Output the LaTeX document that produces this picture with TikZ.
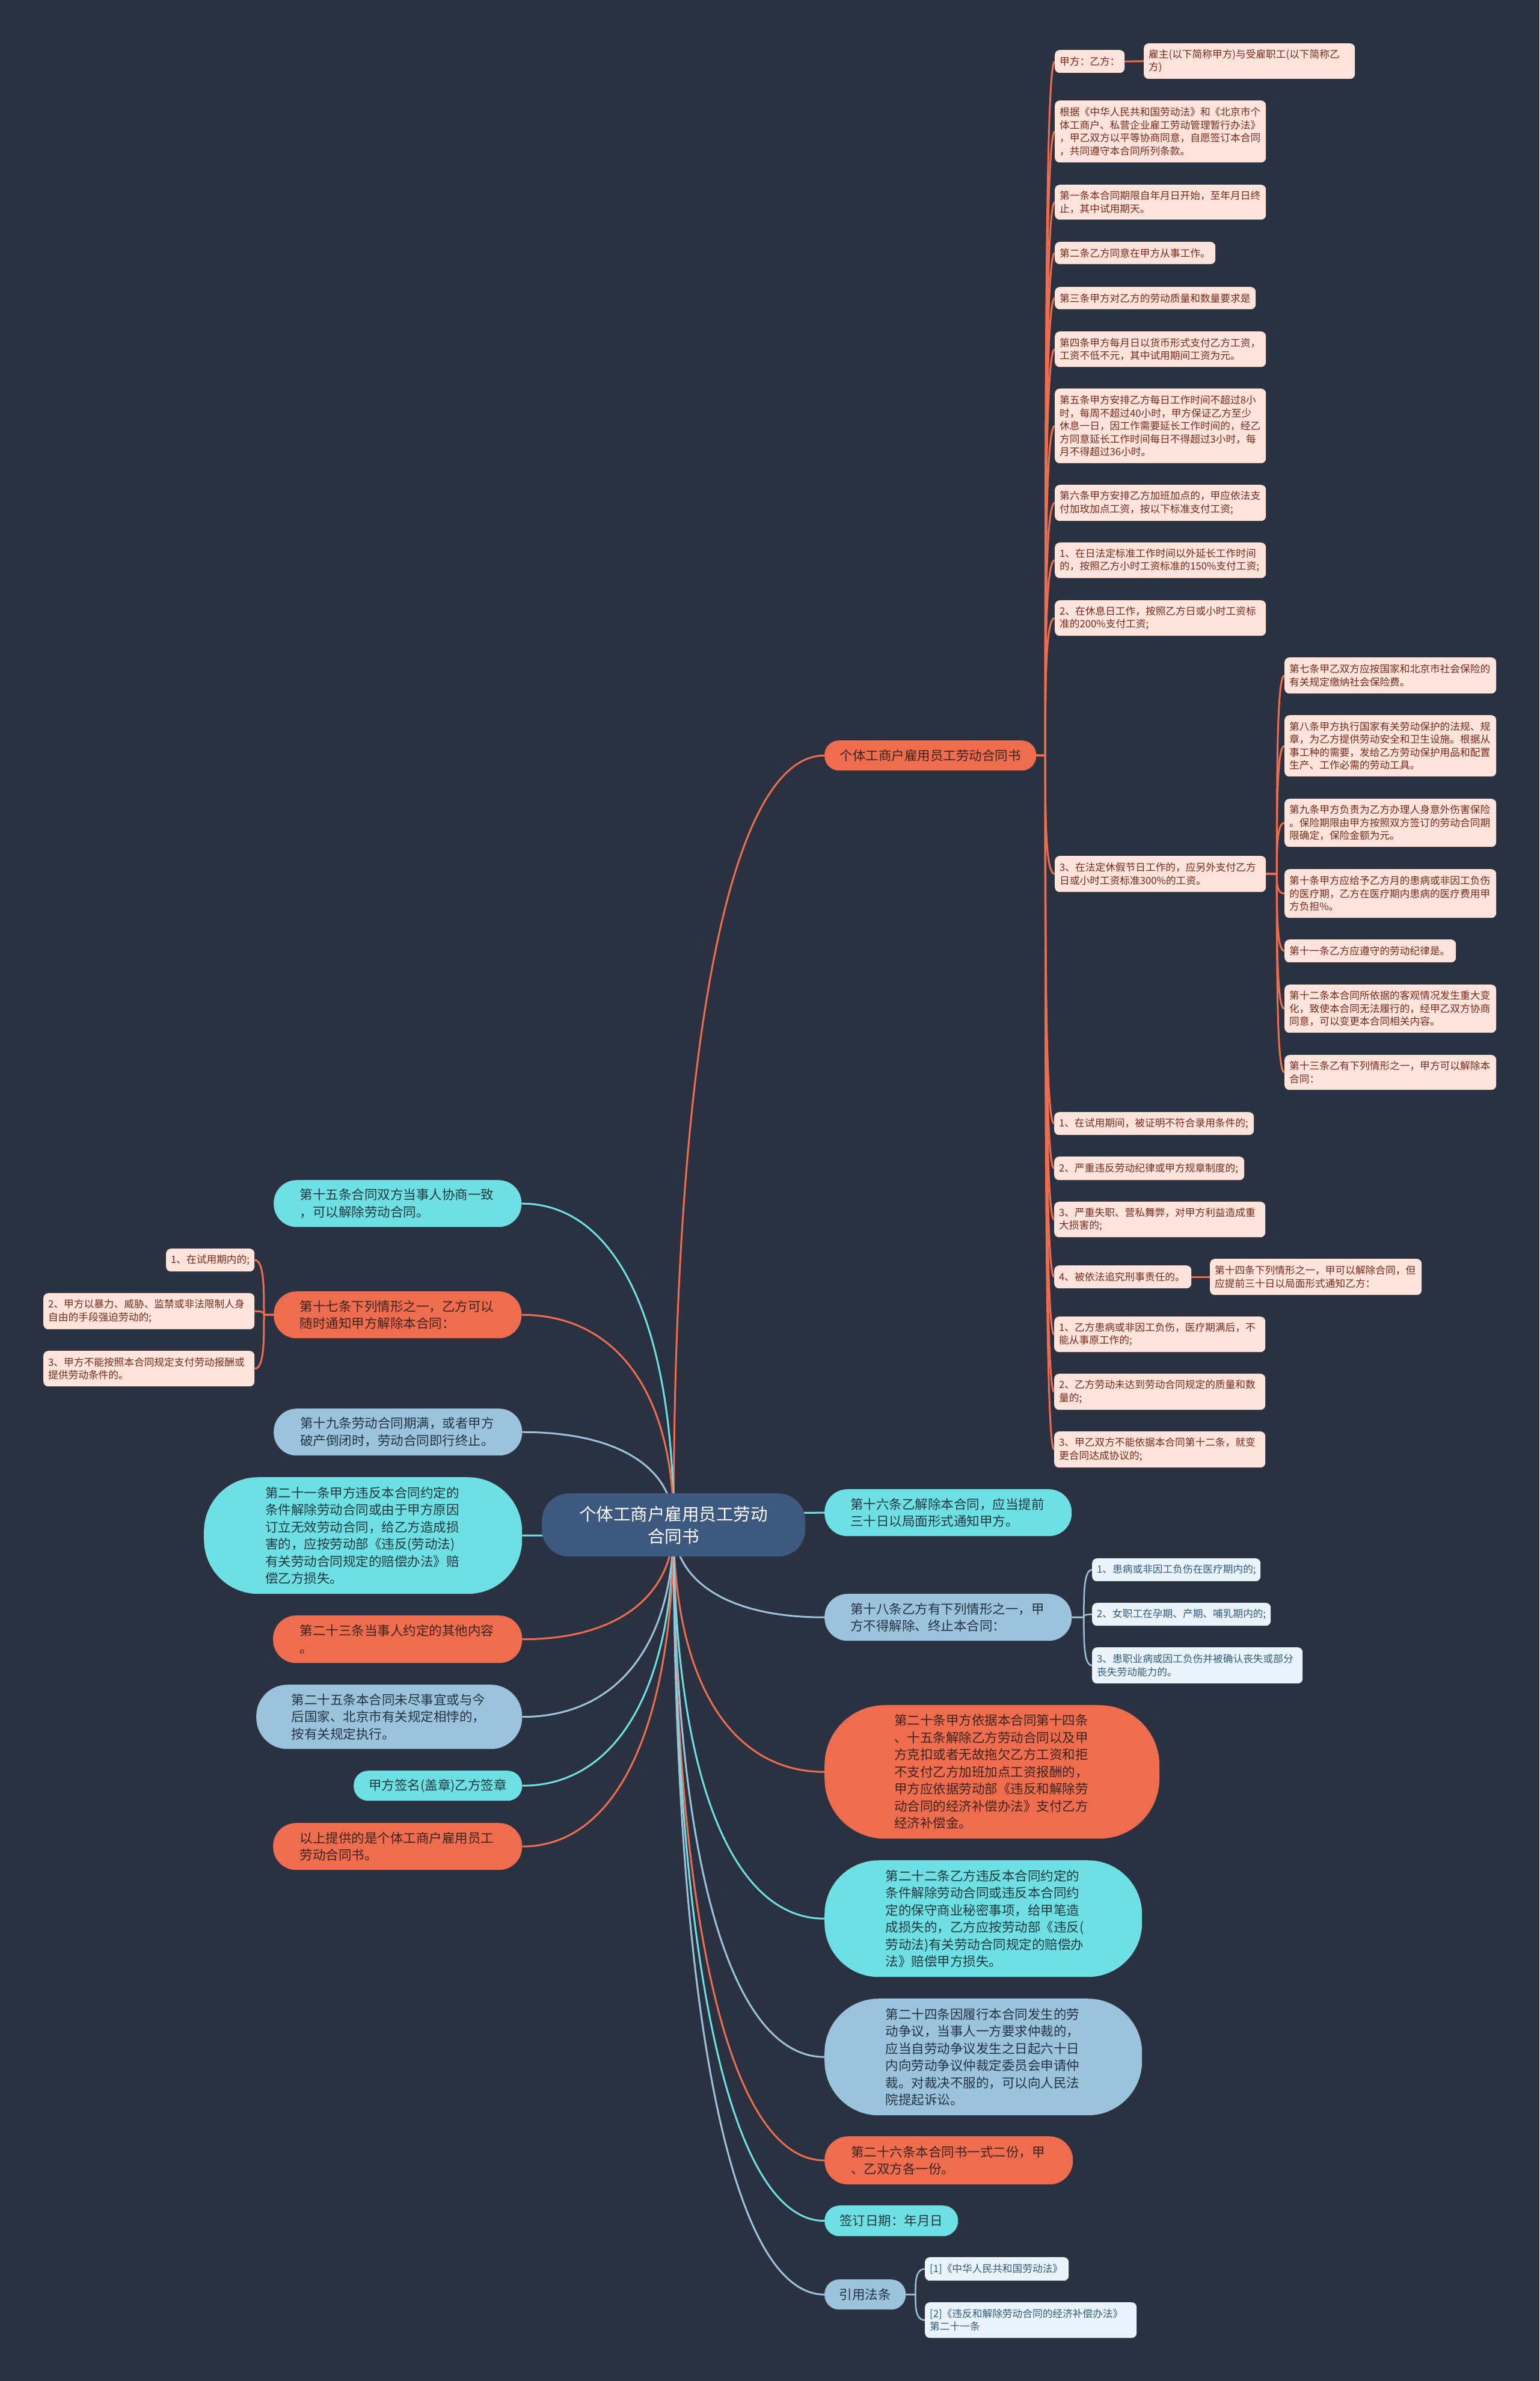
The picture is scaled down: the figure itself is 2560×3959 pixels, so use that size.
\documentclass[tikz,border=0pt]{standalone}
\usepackage{fontspec}
\setmainfont{Noto Sans CJK SC}
\usetikzlibrary{calc}
\definecolor{bgc}{RGB}{42,49,64}
\definecolor{orn}{RGB}{238,109,79}
\definecolor{cyn}{RGB}{110,223,227}
\definecolor{blu}{RGB}{156,195,220}
\definecolor{rootc}{RGB}{61,89,127}
\definecolor{pinkc}{RGB}{252,228,220}
\definecolor{lbluc}{RGB}{234,243,249}
\definecolor{ornT}{RGB}{62,36,30}
\definecolor{cynT}{RGB}{32,58,64}
\definecolor{bluT}{RGB}{36,52,68}
\definecolor{pinkT}{RGB}{122,42,26}
\definecolor{lbluT}{RGB}{48,92,128}
\pgfdeclarelayer{bg}\pgfdeclarelayer{edges}\pgfsetlayers{bg,edges,main}
\tikzset{
  big/.style={font=\fontsize{21.5}{28.5}\selectfont, inner sep=0pt, align=left, anchor=north west},
  bigml/.style={big, text width=325pt},
  bigone/.style={big, align=center},
  ornN/.style={fill=orn, text=ornT},
  cynN/.style={fill=cyn, text=cynT},
  bluN/.style={fill=blu, text=bluT},
  leaf/.style={font=\fontsize{16.7}{21.5}\selectfont, inner xsep=8pt, inner ysep=0pt, align=left, anchor=north west, rounded corners=8pt},
  pinkN/.style={leaf, fill=pinkc, text=pinkT},
  lbluN/.style={leaf, fill=lbluc, text=lbluT},
  ow/.style={orn, line width=3pt},
  cw/.style={cyn, line width=3pt},
  bw/.style={blu, line width=3pt},
  lbw/.style={blu, line width=2.5pt},
}
\newcommand\rl[2]{\draw[#1] (root.center) .. controls ($(root.center)!0.6!(root.center|-#2)$) and ($(root.center|-#2)!0.35!(#2)$) .. (#2);}
\newcommand\brl[4]{\draw[#1] (#2) -- (#3) .. controls ($(#3)!0.5!(#3|-#4)$) and (#3|-#4) .. (#4);}
\begin{document}
\begin{tikzpicture}[x=1pt,y=-1pt]
\begin{pgfonlayer}{bg}
\fill[bgc] (0,0) rectangle (2560,3959);
\end{pgfonlayer}
\useasboundingbox (0,0) rectangle (2560,3959);

% root
\node[font=\fontsize{28.5}{37}\selectfont, inner sep=0pt, align=center, anchor=north west, fill=rootc, text=white, minimum width=438pt, minimum height=105pt, rounded corners=45pt] (root) at (901,2483) {个体工商户雇用员工劳动\\合同书};

% main branch 1
\node[bigone, ornN, minimum width=352pt, minimum height=50pt, rounded corners=24pt] (b1) at (1371,1231) {个体工商户雇用员工劳动合同书};

% leaves of branch 1
\node[pinkN, text width=100pt, minimum height=38pt] (l1) at (1754,83) {甲方：乙方：};
\node[pinkN, text width=335pt, minimum height=59pt] (l1a) at (1902,72) {雇主(以下简称甲方)与受雇职工(以下简称乙\\方)};
\node[pinkN, text width=335pt, minimum height=103pt] (l2) at (1754,167) {根据《中华人民共和国劳动法》和《北京市个\\体工商户、私营企业雇工劳动管理暂行办法》\\，甲乙双方以平等协商同意，自愿签订本合同\\，共同遵守本合同所列条款。};
\node[pinkN, text width=335pt, minimum height=58pt] (l3) at (1754,307) {第一条本合同期限自年月日开始，至年月日终\\止，其中试用期天。};
\node[pinkN, text width=251pt, minimum height=37pt] (l4) at (1754,402) {第二条乙方同意在甲方从事工作。};
\node[pinkN, text width=318pt, minimum height=37pt] (l5) at (1754,477) {第三条甲方对乙方的劳动质量和数量要求是};
\node[pinkN, text width=335pt, minimum height=59pt] (l6) at (1754,551) {第四条甲方每月日以货币形式支付乙方工资，\\工资不低不元，其中试用期间工资为元。};
\node[pinkN, text width=335pt, minimum height=124pt] (l7) at (1754,646) {第五条甲方安排乙方每日工作时间不超过8小\\时，每周不超过40小时，甲方保证乙方至少\\休息一日，因工作需要延长工作时间的，经乙\\方同意延长工作时间每日不得超过3小时，每\\月不得超过36小时。};
\node[pinkN, text width=335pt, minimum height=60pt] (l8) at (1754,806) {第六条甲方安排乙方加班加点的，甲应依法支\\付加玫加点工资，按以下标准支付工资;};
\node[pinkN, text width=335pt, minimum height=59pt] (l9) at (1754,902) {1、在日法定标准工作时间以外延长工作时间\\的，按照乙方小时工资标准的150\%支付工资;};
\node[pinkN, text width=335pt, minimum height=59pt] (l10) at (1754,998) {2、在休息日工作，按照乙方日或小时工资标\\准的200\%支付工资;};
\node[pinkN, text width=335pt, minimum height=60pt] (l11) at (1754,1423) {3、在法定休假节日工作的，应另外支付乙方\\日或小时工资标准300\%的工资。};

% sub leaves of l11
\node[pinkN, text width=336pt, minimum height=60pt] (s1) at (2136,1093) {第七条甲乙双方应按国家和北京市社会保险的\\有关规定缴纳社会保险费。};
\node[pinkN, text width=336pt, minimum height=102pt] (s2) at (2136,1189) {第八条甲方执行国家有关劳动保护的法规、规\\章，为乙方提供劳动安全和卫生设施。根据从\\事工种的需要，发给乙方劳动保护用品和配置\\生产、工作必需的劳动工具。};
\node[pinkN, text width=336pt, minimum height=80pt] (s3) at (2136,1328) {第九条甲方负责为乙方办理人身意外伤害保险\\。保险期限由甲方按照双方签订的劳动合同期\\限确定，保险金额为元。};
\node[pinkN, text width=336pt, minimum height=81pt] (s4) at (2136,1445) {第十条甲方应给予乙方月的患病或非因工负伤\\的医疗期，乙方在医疗期内患病的医疗费用甲\\方负担\%。};
\node[pinkN, text width=269pt, minimum height=38pt] (s5) at (2136,1562) {第十一条乙方应遵守的劳动纪律是。};
\node[pinkN, text width=336pt, minimum height=80pt] (s6) at (2136,1637) {第十二条本合同所依据的客观情况发生重大变\\化，致使本合同无法履行的，经甲乙双方协商\\同意，可以变更本合同相关内容。};
\node[pinkN, text width=336pt, minimum height=58pt] (s7) at (2136,1754) {第十三条乙有下列情形之一，甲方可以解除本\\合同：};

\node[pinkN, text width=316pt, minimum height=38pt] (l12) at (1753,1849) {1、在试用期间，被证明不符合录用条件的;};
\node[pinkN, text width=300pt, minimum height=39pt] (l13) at (1753,1923) {2、严重违反劳动纪律或甲方规章制度的;};
\node[pinkN, text width=335pt, minimum height=59pt] (l14) at (1753,1998) {3、严重失职、营私舞弊，对甲方利益造成重\\大损害的;};
\node[pinkN, text width=212pt, minimum height=38pt] (l15) at (1753,2104) {4、被依法追究刑事责任的。};
\node[pinkN, text width=336pt, minimum height=60pt] (l15a) at (2012,2093) {第十四条下列情形之一，甲可以解除合同，但\\应提前三十日以局面形式通知乙方：};
\node[pinkN, text width=335pt, minimum height=59pt] (l16) at (1753,2189) {1、乙方患病或非因工负伤，医疗期满后，不\\能从事原工作的;};
\node[pinkN, text width=335pt, minimum height=60pt] (l17) at (1753,2284) {2、乙方劳动未达到劳动合同规定的质量和数\\量的;};
\node[pinkN, text width=335pt, minimum height=60pt] (l18) at (1753,2380) {3、甲乙双方不能依据本合同第十二条，就变\\更合同达成协议的;};

% left side
\node[bigml, cynN, minimum width=412pt, minimum height=78pt, rounded corners=38pt] (n15) at (455,1962) {第十五条合同双方当事人协商一致\\，可以解除劳动合同。};
\node[bigml, ornN, minimum width=412pt, minimum height=78pt, rounded corners=38pt] (n17) at (455,2147) {第十七条下列情形之一，乙方可以\\随时通知甲方解除本合同：};
\node[pinkN, text width=131pt, minimum height=38pt] (c1) at (276,2076) {1、在试用期内的;};
\node[pinkN, text width=335pt, minimum height=60pt] (c2) at (72,2150) {2、甲方以暴力、威胁、监禁或非法限制人身\\自由的手段强迫劳动的;};
\node[pinkN, text width=335pt, minimum height=59pt] (c3) at (72,2246) {3、甲方不能按照本合同规定支付劳动报酬或\\提供劳动条件的。};
\node[bigml, bluN, minimum width=413pt, minimum height=78pt, rounded corners=38pt] (n19) at (455,2342) {第十九条劳动合同期满，或者甲方\\破产倒闭时，劳动合同即行终止。};
\node[bigml, cynN, minimum width=529pt, minimum height=194pt, rounded corners=90pt] (n21) at (339,2456) {第二十一条甲方违反本合同约定的\\条件解除劳动合同或由于甲方原因\\订立无效劳动合同，给乙方造成损\\害的，应按劳动部《违反(劳动法)\\有关劳动合同规定的赔偿办法》赔\\偿乙方损失。};
\node[bigml, ornN, minimum width=414pt, minimum height=79pt, rounded corners=38pt] (n23) at (454,2686) {第二十三条当事人约定的其他内容\\。};
\node[bigml, bluN, minimum width=442pt, minimum height=107pt, rounded corners=52pt] (n25) at (426,2801) {第二十五条本合同未尽事宜或与今\\后国家、北京市有关规定相悖的，\\按有关规定执行。};
\node[bigone, cynN, minimum width=280pt, minimum height=50pt, rounded corners=24pt] (nsig) at (588,2944) {甲方签名(盖章)乙方签章};
\node[bigml, ornN, minimum width=414pt, minimum height=78pt, rounded corners=38pt] (nend) at (454,3031) {以上提供的是个体工商户雇用员工\\劳动合同书。};

% right side
\node[bigml, cynN, minimum width=411pt, minimum height=78pt, rounded corners=38pt] (n16) at (1371,2476) {第十六条乙解除本合同，应当提前\\三十日以局面形式通知甲方。};
\node[bigml, bluN, minimum width=411pt, minimum height=78pt, rounded corners=38pt] (n18) at (1371,2650) {第十八条乙方有下列情形之一，甲\\方不得解除、终止本合同：};
\node[lbluN, text width=264pt, minimum height=38pt] (d1) at (1816,2591) {1、患病或非因工负伤在医疗期内的;};
\node[lbluN, text width=281pt, minimum height=38pt] (d2) at (1816,2665) {2、女职工在孕期、产期、哺乳期内的;};
\node[lbluN, text width=334pt, minimum height=60pt] (d3) at (1816,2739) {3、患职业病或因工负伤并被确认丧失或部分\\丧失劳动能力的。};
\node[bigml, ornN, minimum width=557pt, minimum height=222pt, rounded corners=100pt] (n20) at (1371,2835) {第二十条甲方依据本合同第十四条\\、十五条解除乙方劳动合同以及甲\\方克扣或者无故拖欠乙方工资和拒\\不支付乙方加班加点工资报酬的，\\甲方应依据劳动部《违反和解除劳\\动合同的经济补偿办法》支付乙方\\经济补偿金。};
\node[bigml, cynN, minimum width=528pt, minimum height=194pt, rounded corners=90pt] (n22) at (1371,3093) {第二十二条乙方违反本合同约定的\\条件解除劳动合同或违反本合同约\\定的保守商业秘密事项，给甲笔造\\成损失的，乙方应按劳动部《违反(\\劳动法)有关劳动合同规定的赔偿办\\法》赔偿甲方损失。};
\node[bigml, bluN, minimum width=528pt, minimum height=194pt, rounded corners=90pt] (n24) at (1371,3323) {第二十四条因履行本合同发生的劳\\动争议，当事人一方要求仲裁的，\\应当自劳动争议发生之日起六十日\\内向劳动争议仲裁定委员会申请仲\\裁。对裁决不服的，可以向人民法\\院提起诉讼。};
\node[bigml, ornN, minimum width=413pt, minimum height=80pt, rounded corners=39pt] (n26) at (1371,3552) {第二十六条本合同书一式二份，甲\\、乙双方各一份。};
\node[bigone, cynN, minimum width=222pt, minimum height=51pt, rounded corners=25pt] (ndate) at (1371,3667) {签订日期：年月日};
\node[bigone, bluN, minimum width=135pt, minimum height=50pt, rounded corners=24pt] (nref) at (1371,3790) {引用法条};
\node[lbluN, text width=223pt, minimum height=39pt] (r1) at (1538,3753) {[1]《中华人民共和国劳动法》};
\node[lbluN, text width=336pt, minimum height=59pt] (r2) at (1538,3828) {[2]《违反和解除劳动合同的经济补偿办法》\\第二十一条};

% spine coordinates
\coordinate (sp1) at ($(b1.east)+(15,0)$);
\coordinate (sp2) at ($(l11.east)+(18,0)$);
\coordinate (sp3) at ($(n17.west)+(-16,0)$);
\coordinate (sp4) at ($(n18.east)+(20,0)$);
\coordinate (sp5) at ($(nref.east)+(16,0)$);

\begin{pgfonlayer}{edges}
% root links
\rl{ow}{b1.west}
\rl{cw}{n15.east}
\rl{ow}{n17.east}
\rl{bw}{n19.east}
\rl{cw}{n21.east}
\rl{ow}{n23.east}
\rl{bw}{n25.east}
\rl{cw}{nsig.east}
\rl{ow}{nend.east}
\rl{cw}{n16.west}
\rl{bw}{n18.west}
\rl{ow}{n20.west}
\rl{cw}{n22.west}
\rl{bw}{n24.west}
\rl{ow}{n26.west}
\rl{cw}{ndate.west}
\rl{bw}{nref.west}
% branch 1 leaves
\foreach \t in {l1,l2,l3,l4,l5,l6,l7,l8,l9,l10,l11,l12,l13,l14,l15,l16,l17,l18}{\brl{ow}{b1.east}{sp1}{\t.west}}
\draw[ow] (l1.east) -- (l1a.west);
\draw[ow] (l15.east) -- (l15a.west);
\foreach \t in {s1,s2,s3,s4,s5,s6,s7}{\brl{ow}{l11.east}{sp2}{\t.west}}
\foreach \t in {c1,c2,c3}{\brl{ow}{n17.west}{sp3}{\t.east}}
\foreach \t in {d1,d2,d3}{\brl{lbw}{n18.east}{sp4}{\t.west}}
\foreach \t in {r1,r2}{\brl{lbw}{nref.east}{sp5}{\t.west}}
\end{pgfonlayer}
\end{tikzpicture}
\end{document}
